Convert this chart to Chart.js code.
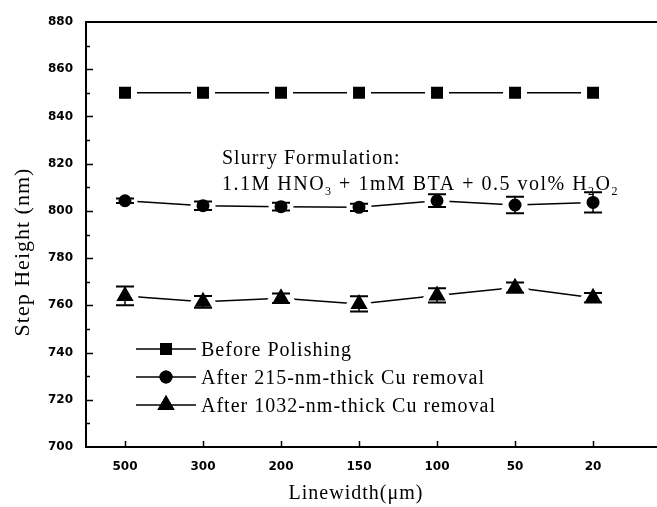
<!DOCTYPE html>
<html>
<head>
<meta charset="utf-8">
<script src="https://cdn.jsdelivr.net/npm/chart.js@4/dist/chart.umd.min.js"></script>
<style>
  html, body { margin: 0; padding: 0; background: #fff; overflow: hidden; }
  canvas { display: block; }
</style>
</head>
<body>
<canvas id="stepChart" width="657" height="507"></canvas>
<script>
// Linewidth categories (um) and step heights (nm)
const categories = ['500', '300', '200', '150', '100', '50', '20'];
const beforePolishing = [850, 850, 850, 850, 850, 850, 850];
const after215 = [804.3, 802.2, 801.8, 801.5, 804.3, 802.5, 803.6];
const after215Err = [1.0, 1.8, 1.6, 1.5, 2.7, 3.5, 4.3];
const after1032 = [764.0, 761.5, 763.0, 760.6, 764.2, 767.5, 763.2];
const after1032Err = [4.0, 2.5, 2.0, 3.2, 3.0, 2.2, 2.0];
const seriesNames = ['Before Polishing', 'After 215-nm-thick Cu removal', 'After 1032-nm-thick Cu removal'];
const yMin = 700, yMax = 880, yStep = 20, yMinorStep = 10;

const serif = '"Liberation Serif", "Times New Roman", serif';
const tickFont = { family: '"DejaVu Sans", sans-serif', size: 12, weight: 'bold' };

function toPoints(values) {
    return values.map((v, i) => ({ x: i, y: v }));
}

// marker styles: white border makes the little gap between line and marker
const markers = [
    { style: 'rect', radius: 12.7, legendRadius: 8.5 },
    { style: 'circle', radius: 9.5, legendRadius: 6.5 },
    { style: 'triangle', radius: 16, legendRadius: 10 }
];

const errors = [null, after215Err, after1032Err];

function makeDataset(label, values, m) {
    return {
        label: label,
        data: toPoints(values),
        borderColor: '#000',
        borderWidth: 1.5,
        backgroundColor: '#000',
        pointStyle: m.style,
        pointRadius: m.radius,
        pointBackgroundColor: '#000',
        pointBorderColor: '#fff',
        pointBorderWidth: 6,
        tension: 0
    };
}

// axes, ticks, error bars, legend and annotation
const decorPlugin = {
    id: 'decor',
    afterDatasetsDraw(chart) {
        const ctx = chart.ctx;
        const xs = chart.scales.x, ys = chart.scales.y;
        ctx.save();
        ctx.strokeStyle = '#000';
        chart.data.datasets.forEach((ds, di) => {
            const err = errors[di];
            if (!err) return;
            ds.data.forEach((p, i) => {
                const x = xs.getPixelForValue(p.x);
                const yt = ys.getPixelForValue(p.y + err[i]);
                const yb = ys.getPixelForValue(p.y - err[i]);
                ctx.lineWidth = 1.5;
                ctx.beginPath();
                ctx.moveTo(x, yt); ctx.lineTo(x, yb);
                ctx.stroke();
                ctx.lineWidth = 2;
                ctx.beginPath();
                ctx.moveTo(x - 9, yt); ctx.lineTo(x + 9, yt);
                ctx.moveTo(x - 9, yb); ctx.lineTo(x + 9, yb);
                ctx.stroke();
            });
        });
        ctx.restore();
    },
    afterDraw(chart) {
        const ctx = chart.ctx;
        const area = chart.chartArea;
        const xs = chart.scales.x, ys = chart.scales.y;
        ctx.save();
        ctx.strokeStyle = '#000';
        ctx.fillStyle = '#000';

        // frame: left, bottom, top
        ctx.lineWidth = 2;
        ctx.beginPath();
        ctx.moveTo(area.right, area.top);
        ctx.lineTo(area.left, area.top);
        ctx.lineTo(area.left, area.bottom);
        ctx.lineTo(area.right, area.bottom);
        ctx.stroke();

        // y ticks (inward), major and minor
        ctx.lineWidth = 1.5;
        ctx.beginPath();
        for (let v = yMin + yMinorStep; v < yMax; v += yMinorStep) {
            const y = Math.round(ys.getPixelForValue(v)) + 0.5;
            const len = (v % yStep === 0) ? 7 : 4;
            ctx.moveTo(area.left, y);
            ctx.lineTo(area.left + len, y);
        }
        // x ticks (inward)
        categories.forEach((c, i) => {
            const x = Math.round(xs.getPixelForValue(i)) + 0.5;
            ctx.moveTo(x, area.bottom);
            ctx.lineTo(x, area.bottom - 6);
        });
        ctx.stroke();

        // legend
        ctx.letterSpacing = '1px';
        ctx.font = '20px ' + serif;
        ctx.textBaseline = 'alphabetic';
        ctx.textAlign = 'left';
        const legendY = [349, 377, 405];
        seriesNames.forEach((name, i) => {
            const y = legendY[i];
            ctx.lineWidth = 1.5;
            ctx.beginPath();
            ctx.moveTo(136, y); ctx.lineTo(196, y);
            ctx.stroke();
            Chart.helpers.drawPoint(ctx, {
                pointStyle: markers[i].style,
                radius: markers[i].legendRadius,
                borderWidth: 0,
                rotation: 0
            }, 166, y);
            ctx.fill();
            ctx.fillText(name, 201, y + 7);
        });

        // annotation with subscripts
        ctx.fillText('Slurry Formulation:', 222, 164);
        ctx.letterSpacing = '1.5px';
        const parts = [['1.1M HNO', 0], ['3', 1], [' + 1mM BTA + 0.5 vol% H', 0], ['2', 1], ['O', 0], ['2', 1]];
        let ax = 222;
        parts.forEach(([t, sub]) => {
            ctx.font = (sub ? '12px ' : '20px ') + serif;
            ctx.fillText(t, ax, sub ? 195 : 190);
            ax += ctx.measureText(t).width;
        });

        // axis titles
        ctx.letterSpacing = '1px';
        ctx.font = '20px ' + serif;
        ctx.textAlign = 'center';
        ctx.fillText('Linewidth(\u03bcm)', 356, 499);
        ctx.save();
        ctx.translate(29, 252);
        ctx.rotate(-Math.PI / 2);
        ctx.font = '22px ' + serif;
        ctx.fillText('Step Height (nm)', 0, 0);
        ctx.restore();

        ctx.restore();
    }
};

document.addEventListener('DOMContentLoaded', function() {
    const ctx = document.getElementById('stepChart').getContext('2d');
    new Chart(ctx, {
        type: 'line',
        data: {
            datasets: [
                makeDataset(seriesNames[0], beforePolishing, markers[0]),
                makeDataset(seriesNames[1], after215, markers[1]),
                makeDataset(seriesNames[2], after1032, markers[2])
            ]
        },
        options: {
            responsive: false,
            devicePixelRatio: 1,
            animation: false,
            layout: { autoPadding: false, padding: { top: 22, left: 0, right: 0, bottom: 0 } },
            plugins: {
                legend: { display: false },
                tooltip: { enabled: false }
            },
            scales: {
                x: {
                    type: 'linear',
                    min: -0.5,
                    max: 6.82,
                    grid: { display: false, drawTicks: false },
                    border: { display: false },
                    afterBuildTicks: s => {
                        s.ticks = categories.map((c, i) => ({ value: i }));
                    },
                    afterFit: s => {
                        s.height = 60;
                        s.paddingLeft = 0;
                        s.paddingRight = 0;
                    },
                    ticks: {
                        color: '#000',
                        font: tickFont,
                        padding: 13,
                        maxRotation: 0,
                        autoSkip: false,
                        callback: v => categories[v]
                    }
                },
                y: {
                    min: yMin,
                    max: yMax,
                    grid: { display: false, drawTicks: false },
                    border: { display: false },
                    afterFit: s => {
                        s.width = 86;
                        s.paddingTop = 0;
                        s.paddingBottom = 0;
                    },
                    ticks: {
                        stepSize: yStep,
                        color: '#000',
                        font: tickFont,
                        padding: 13
                    }
                }
            }
        },
        plugins: [decorPlugin]
    });
});
</script>
</body>
</html>
